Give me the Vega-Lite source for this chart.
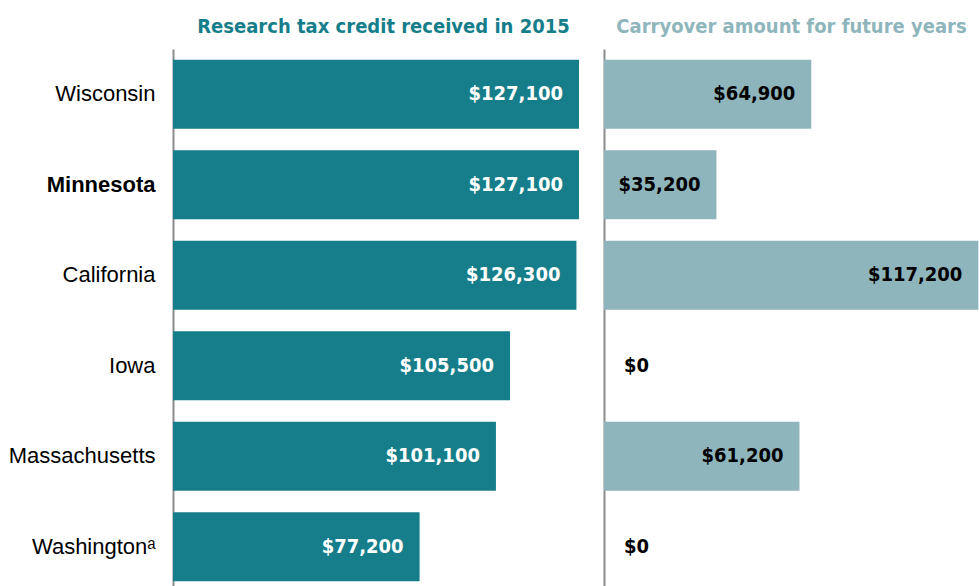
{
  "$schema": "https://vega.github.io/schema/vega-lite/v6.json",
  "padding": {"left": 8, "top": 17, "right": 0, "bottom": 0},
  "data": {"values": [
    {"state": "Wisconsin", "credit": 127100, "carryover": 64900},
    {"state": "Minnesota", "credit": 127100, "carryover": 35200},
    {"state": "California", "credit": 126300, "carryover": 117200},
    {"state": "Iowa", "credit": 105500, "carryover": 0},
    {"state": "Massachusetts", "credit": 101100, "carryover": 61200},
    {"state": "Washingtonᵃ", "credit": 77200, "carryover": 0}
  ]},
  "spacing": 10,
  "bounds": "flush",
  "hconcat": [
    {
      "width": 421,
      "height": 543,
      "title": {"text": "Research tax credit received in 2015", "color": "#157E8A", "fontSize": 20, "font": "'Liberation Sans Narrow', 'DejaVu Sans Condensed', sans-serif", "fontWeight": "bold", "anchor": "middle", "offset": 12},
      "encoding": {
        "y": {"field": "state", "type": "nominal", "sort": null,
          "scale": {"paddingInner": 0.24, "paddingOuter": 0.12},
          "axis": {"title": null, "ticks": false, "labelPadding": 18, "labelFont": "Liberation Sans", "labelFontSize": 22, "labelColor": "black",
            "labelFontWeight": {"condition": {"test": "datum.value === 'Minnesota'", "value": "bold"}, "value": "normal"},
            "domainColor": "#8c8c8c", "domainWidth": 2}}
      },
      "layer": [
        {"mark": {"type": "bar", "color": "#157E8A"},
         "encoding": {"x": {"field": "credit", "type": "quantitative", "scale": {"domain": [0, 131800], "nice": false}, "axis": null}}},
        {"mark": {"type": "text", "align": "right", "dx": -16, "color": "white", "font": "'Liberation Sans Narrow', 'DejaVu Sans Condensed', sans-serif", "fontWeight": "bold", "fontSize": 20},
         "encoding": {"x": {"field": "credit", "type": "quantitative"}, "text": {"field": "credit", "type": "quantitative", "format": "$,.0f"}}}
      ]
    },
    {
      "width": 375,
      "height": 543,
      "title": {"text": "Carryover amount for future years", "color": "#8FB5BC", "fontSize": 20, "font": "'Liberation Sans Narrow', 'DejaVu Sans Condensed', sans-serif", "fontWeight": "bold", "anchor": "middle", "offset": 12},
      "encoding": {
        "y": {"field": "state", "type": "nominal", "sort": null,
          "scale": {"paddingInner": 0.24, "paddingOuter": 0.12},
          "axis": {"title": null, "ticks": false, "labels": false, "domainColor": "#8c8c8c", "domainWidth": 2, "minExtent": 0, "maxExtent": 0}}
      },
      "layer": [
        {"mark": {"type": "bar", "color": "#8FB5BC"},
         "encoding": {"x": {"field": "carryover", "type": "quantitative", "scale": {"domain": [0, 117400], "nice": false}, "axis": null}}},
        {"transform": [{"filter": "datum.carryover > 0"}],
         "mark": {"type": "text", "align": "right", "dx": -16, "color": "black", "font": "'Liberation Sans Narrow', 'DejaVu Sans Condensed', sans-serif", "fontWeight": "bold", "fontSize": 20},
         "encoding": {"x": {"field": "carryover", "type": "quantitative"}, "text": {"field": "carryover", "type": "quantitative", "format": "$,.0f"}}},
        {"transform": [{"filter": "datum.carryover == 0"}],
         "mark": {"type": "text", "align": "left", "dx": 20, "color": "black", "font": "'Liberation Sans Narrow', 'DejaVu Sans Condensed', sans-serif", "fontWeight": "bold", "fontSize": 20},
         "encoding": {"x": {"field": "carryover", "type": "quantitative"}, "text": {"field": "carryover", "type": "quantitative", "format": "$,.0f"}}}
      ]
    }
  ],
  "config": {"view": {"stroke": null}}
}
